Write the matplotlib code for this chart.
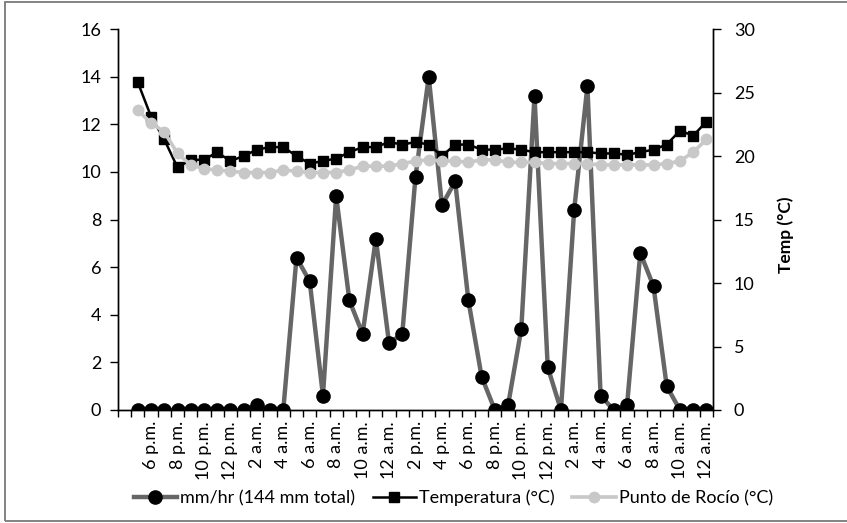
import numpy as np
import matplotlib
matplotlib.use("Agg")
import matplotlib.pyplot as plt
from matplotlib.patches import Rectangle

plt.rcParams['font.family'] = ['Lato', 'DejaVu Sans']

# hourly rain (mm/hr), temperature and dew point, starting 5 p.m.
rain = [0, 0, 0, 0, 0, 0, 0, 0, 0, 0.2, 0, 0,
        6.4, 5.4, 0.6, 9.0, 4.6, 3.2, 7.2, 2.8, 3.2, 9.8,
        14.0, 8.6, 9.6, 4.6, 1.4, 0, 0.2, 3.4, 13.2, 1.8,
        0, 8.4, 13.6, 0.6, 0, 0.2, 6.6, 5.2, 1.0, 0, 0, 0]
temp = [25.8, 23.1, 21.3, 19.1, 19.7, 19.7, 20.3, 19.6, 20.0, 20.5, 20.7, 20.7,
        20.0, 19.4, 19.6, 19.8, 20.3, 20.7, 20.7, 21.1, 20.9, 21.1,
        20.9, 20.0, 20.9, 20.9, 20.5, 20.5, 20.6, 20.5, 20.3, 20.3,
        20.3, 20.3, 20.3, 20.2, 20.2, 20.1, 20.3, 20.5, 20.9, 22.0, 21.6, 22.7]
dew = [23.6, 22.6, 21.9, 20.2, 19.3, 19.0, 18.9, 18.8, 18.7, 18.7, 18.7, 18.9,
       18.8, 18.7, 18.7, 18.7, 18.9, 19.2, 19.2, 19.2, 19.4, 19.6,
       19.7, 19.6, 19.6, 19.5, 19.7, 19.7, 19.5, 19.5, 19.5, 19.4,
       19.4, 19.4, 19.4, 19.3, 19.3, 19.3, 19.3, 19.3, 19.4, 19.6, 20.3, 21.3]
hour_labels = ["6 p.m.", "8 p.m.", "10 p.m.", "12 p.m.", "2 a.m.", "4 a.m.",
               "6 a.m.", "8 a.m.", "10 a.m.", "12 a.m.", "2 p.m.", "4 p.m.",
               "6 p.m.", "8 p.m.", "10 p.m.", "12 p.m.", "2 a.m.", "4 a.m.",
               "6 a.m.", "8 a.m.", "10 a.m.", "12 a.m."]

x = np.arange(len(rain))
fs = 13

fig = plt.figure(figsize=(8.47, 5.23), dpi=100)
ax = fig.add_axes([118/847, 1 - 410/523, 595/847, 381/523])
ax2 = ax.twinx()

l1, = ax.plot(x, rain, color='#666666', lw=3.2, marker='o', ms=9.5,
              mfc='black', mec='black', label='mm/hr (144 mm total)')
l2, = ax2.plot(x, temp, color='black', lw=1.8, marker='s', ms=7,
               mfc='black', mec='black', label='Temperatura (°C)')
l3, = ax2.plot(x, dew, color='#c8c8c8', lw=2.6, marker='o', ms=7.5,
               mfc='#c8c8c8', mec='#c8c8c8', label='Punto de Rocío (°C)')

ax.set_xlim(-1.5, len(rain) - 0.5)
ax.set_ylim(0, 16)
ax.set_yticks(np.arange(0, 17, 2))
ax2.set_ylim(0, 30)
ax2.set_yticks(np.arange(0, 31, 5))

ax.set_xticks(x[1::2])
ax.set_xticklabels(hour_labels, rotation=90, fontsize=fs)
ax.set_xticks(np.arange(-1.5, len(rain), 1), minor=True)
ax.tick_params(axis='x', which='major', length=0, pad=8)
ax.tick_params(axis='x', which='minor', length=5, width=1, color='black')
ax.tick_params(axis='y', length=6, width=1, labelsize=fs, pad=6)
ax2.tick_params(axis='y', length=6, width=1, labelsize=fs, pad=9)
ax2.set_ylabel('Temp (°C)', fontsize=12.5, fontweight='bold', labelpad=10)
ax2.yaxis.set_label_coords(1.108, 0.46)

for a in (ax, ax2):
    a.spines['top'].set_visible(False)
    for s in ('left', 'right', 'bottom'):
        a.spines[s].set_linewidth(1.0)

fig.legend(handles=[l1, l2, l3], loc='center', bbox_to_anchor=(0.535, 0.048),
           ncol=3, frameon=False, fontsize=fs, handlelength=2.4,
           handletextpad=0.15, columnspacing=1.0)

# grey chart border
fig.patches.append(Rectangle((5/847, 2/523), 1.0, 519/523, transform=fig.transFigure,
                             fill=False, edgecolor='#7a7a7a', lw=1.3))

fig.savefig('out.png', dpi=100)
